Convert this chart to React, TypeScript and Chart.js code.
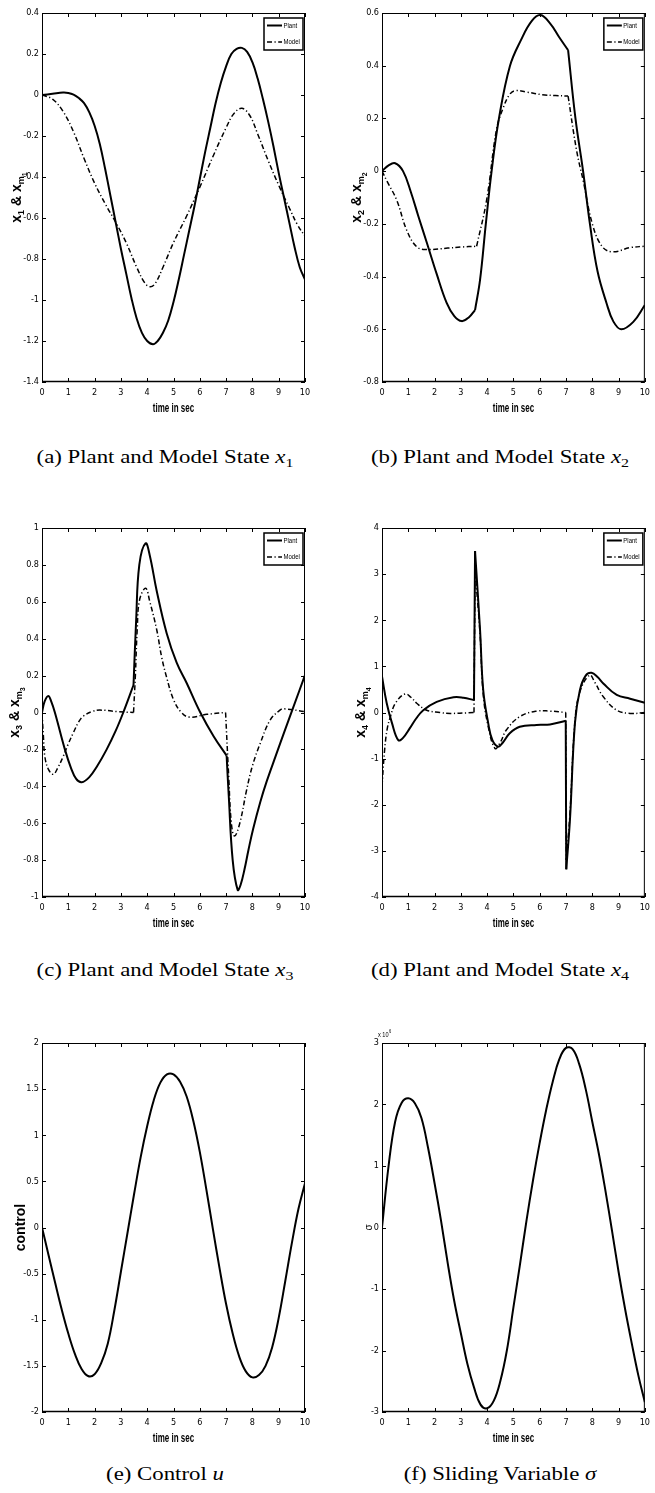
import React, { useEffect, useRef } from 'react';
import { Chart, registerables } from 'chart.js';

Chart.register(...registerables);

// ---------------- data ----------------
const timeTicks = [0, 1, 2, 3, 4, 5, 6, 7, 8, 9, 10];

const ticksA = [-1.4, -1.2, -1, -0.8, -0.6, -0.4, -0.2, 0, 0.2, 0.4];
const ticksB = [-0.8, -0.6, -0.4, -0.2, 0, 0.2, 0.4, 0.6];
const ticksC = [-1, -0.8, -0.6, -0.4, -0.2, 0, 0.2, 0.4, 0.6, 0.8, 1];
const ticksD = [-4, -3, -2, -1, 0, 1, 2, 3, 4];
const ticksE = [-2, -1.5, -1, -0.5, 0, 0.5, 1, 1.5, 2];
const ticksF = [-3, -2, -1, 0, 1, 2, 3];

const legendLabels = ['Plant', 'Model'];

// (a) state x1
const tA_plant = [0, 0.4, 0.8, 1.0, 1.2, 1.4, 1.6, 1.8, 2.0, 2.2, 2.4, 2.6, 2.8, 3.0, 3.2, 3.4, 3.6, 3.8, 4.0, 4.22, 4.4, 4.6, 4.8, 5.0, 5.2, 5.4, 5.6, 5.8, 6.0, 6.2, 6.4, 6.6, 6.8, 7.0, 7.2, 7.4, 7.6, 7.8, 8.0, 8.2, 8.4, 8.6, 8.8, 9.0, 9.2, 9.4, 9.6, 9.8, 10];
const xA_plant = [0, 0.006, 0.012, 0.01, 0.002, -0.015, -0.04, -0.085, -0.15, -0.24, -0.36, -0.49, -0.62, -0.75, -0.87, -0.99, -1.09, -1.16, -1.2, -1.216, -1.2, -1.16, -1.1, -1.01, -0.9, -0.78, -0.66, -0.54, -0.41, -0.28, -0.16, -0.04, 0.06, 0.14, 0.2, 0.225, 0.23, 0.21, 0.16, 0.08, -0.02, -0.13, -0.25, -0.38, -0.5, -0.62, -0.74, -0.84, -0.9];
const tA_model = [0, 0.4, 0.8, 1.2, 1.6, 2.0, 2.4, 2.8, 3.2, 3.6, 3.9, 4.1, 4.3, 4.6, 5.0, 5.5, 6.0, 6.5, 7.0, 7.3, 7.6, 7.9, 8.2, 8.6, 9.0, 9.4, 9.7, 10];
const xA_model = [0, -0.02, -0.08, -0.18, -0.31, -0.43, -0.53, -0.62, -0.72, -0.84, -0.915, -0.935, -0.92, -0.84, -0.72, -0.59, -0.45, -0.3, -0.16, -0.09, -0.065, -0.1, -0.19, -0.32, -0.44, -0.55, -0.63, -0.69];
const cornersA_plant: number[] = [];
const cornersA_model: number[] = [];

// (b) state x2
const tB_plant = [0, 0.25, 0.5, 0.8, 1.1, 1.38, 1.7, 2.08, 2.46, 2.75, 3.03, 3.3, 3.54, 3.73, 3.95, 4.17, 4.45, 4.87, 5.3, 5.7, 6.03, 6.4, 6.73, 7.08, 7.36, 7.65, 7.91, 8.2, 8.54, 8.8, 9.1, 9.56, 10];
const xB_plant = [0, 0.022, 0.03, 0, -0.08, -0.17, -0.27, -0.39, -0.5, -0.55, -0.569, -0.555, -0.527, -0.413, -0.2, 0, 0.2, 0.4, 0.5, 0.57, 0.592, 0.56, 0.51, 0.459, 0.2, 0, -0.2, -0.38, -0.5, -0.57, -0.6, -0.572, -0.508];
const tB_model = [0, 0.2, 0.56, 0.94, 1.32, 1.7, 2.5, 3.0, 3.6, 3.98, 4.36, 4.61, 4.85, 5.05, 5.5, 6.1, 6.6, 7.08, 7.4, 7.65, 8.03, 8.41, 8.8, 9.44, 10];
const xB_model = [0, -0.04, -0.11, -0.224, -0.287, -0.297, -0.292, -0.288, -0.285, -0.11, 0.16, 0.24, 0.29, 0.305, 0.3, 0.29, 0.287, 0.285, 0.08, -0.034, -0.21, -0.29, -0.306, -0.29, -0.285];
const cornersB_plant = [3.54, 7.08];
const cornersB_model = [3.6, 7.08];

// (c) state x3
const tC_plant = [0, 0.1, 0.24, 0.35, 0.49, 0.87, 1.1, 1.3, 1.51, 1.8, 2.1, 2.46, 2.8, 3.09, 3.48, 3.58, 3.7, 3.94, 4.1, 4.36, 4.74, 5.12, 5.5, 6.02, 6.53, 7.02, 7.1, 7.25, 7.44, 7.55, 7.7, 7.85, 8.03, 8.3, 8.54, 8.9, 9.2, 9.56, 10];
const xC_plant = [0, 0.06, 0.09, 0.06, 0, -0.2, -0.3, -0.36, -0.378, -0.35, -0.29, -0.2, -0.1, 0, 0.149, 0.5, 0.8, 0.917, 0.85, 0.66, 0.43, 0.27, 0.16, 0, -0.13, -0.234, -0.45, -0.8, -0.962, -0.935, -0.85, -0.745, -0.63, -0.485, -0.375, -0.23, -0.11, 0.03, 0.203];
const tC_model = [0, 0.05, 0.11, 0.25, 0.43, 0.6, 0.8, 1.0, 1.19, 1.4, 1.57, 1.9, 2.2, 2.85, 3.48, 3.55, 3.62, 3.71, 3.94, 4.1, 4.36, 4.55, 4.74, 5.0, 5.3, 5.6, 6.27, 6.98, 7.1, 7.2, 7.32, 7.52, 7.78, 8.0, 8.29, 8.68, 9.06, 9.2, 10];
const xC_model = [0, -0.12, -0.24, -0.31, -0.335, -0.3, -0.24, -0.17, -0.11, -0.05, -0.02, 0.005, 0.013, 0.005, 0, 0.2, 0.45, 0.61, 0.673, 0.6, 0.45, 0.3, 0.19, 0.07, 0, -0.025, -0.01, 0, -0.35, -0.6, -0.67, -0.6, -0.42, -0.29, -0.17, -0.04, 0.014, 0.02, 0.005];
const cornersC_plant = [3.48, 7.02];
const cornersC_model = [3.48, 6.98];

// (d) state x4
const tD_plant = [0, 0.18, 0.38, 0.62, 0.8, 1.06, 1.3, 1.57, 2.08, 2.72, 3.1, 3.5, 3.54, 3.73, 3.85, 4.04, 4.2, 4.42, 4.6, 4.86, 5.24, 5.88, 6.39, 6.99, 7.01, 7.15, 7.34, 7.53, 7.75, 7.97, 8.2, 8.42, 8.93, 9.44, 10];
const xD_plant = [0.78, 0.2, -0.23, -0.6, -0.55, -0.34, -0.13, 0.05, 0.23, 0.33, 0.32, 0.27, 3.5, 1.79, 0.49, -0.23, -0.6, -0.74, -0.65, -0.45, -0.31, -0.27, -0.26, -0.18, -3.4, -2.33, -0.23, 0.49, 0.8, 0.86, 0.77, 0.63, 0.38, 0.3, 0.21];
const tD_model = [0, 0.1, 0.2, 0.32, 0.51, 0.87, 1.1, 1.32, 1.7, 2.2, 2.6, 3.5, 3.54, 3.73, 3.85, 4.04, 4.3, 4.5, 4.73, 5.24, 5.88, 6.39, 6.99, 7.01, 7.15, 7.34, 7.53, 7.9, 8.1, 8.42, 8.93, 9.44, 10];
const xD_model = [-1.6, -0.81, -0.35, -0.09, 0.2, 0.4, 0.33, 0.2, 0.05, 0, -0.02, 0, 3.1, 1.7, 0.4, -0.3, -0.78, -0.65, -0.38, -0.09, 0.03, 0.03, 0, -3.2, -2.2, -0.2, 0.45, 0.81, 0.65, 0.34, 0.05, -0.02, 0];
const cornersD_plant = [3.5, 3.54, 6.99, 7.01];
const cornersD_model = [3.5, 3.54, 6.99, 7.01];

// (e) control u
const tE = [0, 0.25, 0.5, 0.75, 1, 1.25, 1.5, 1.75, 2, 2.25, 2.5, 2.75, 3, 3.25, 3.5, 3.75, 4, 4.25, 4.5, 4.75, 5, 5.25, 5.5, 5.75, 6, 6.25, 6.5, 6.75, 7, 7.25, 7.5, 7.75, 8, 8.25, 8.5, 8.75, 9, 9.25, 9.5, 9.75, 10];
const uE = [0, -0.3, -0.6, -0.89, -1.15, -1.37, -1.53, -1.61, -1.59, -1.47, -1.26, -0.9, -0.48, -0.06, 0.36, 0.76, 1.1, 1.38, 1.57, 1.66, 1.66, 1.58, 1.42, 1.16, 0.82, 0.41, -0.02, -0.44, -0.83, -1.15, -1.4, -1.56, -1.625, -1.6, -1.5, -1.3, -0.98, -0.58, -0.17, 0.2, 0.48];

// (f) sliding variable sigma (x 10^6)
const tF = [0, 0.25, 0.5, 0.75, 1, 1.25, 1.5, 1.75, 2, 2.25, 2.5, 2.75, 3, 3.25, 3.5, 3.75, 4, 4.25, 4.5, 4.75, 5, 5.25, 5.5, 5.75, 6, 6.25, 6.5, 6.75, 7, 7.25, 7.5, 7.75, 8, 8.25, 8.5, 8.75, 9, 9.25, 9.5, 9.75, 10];
const sF = [0, 1.0, 1.72, 2.03, 2.1, 2.02, 1.78, 1.3, 0.72, 0.1, -0.58, -1.2, -1.72, -2.22, -2.6, -2.88, -2.94, -2.82, -2.5, -2.0, -1.3, -0.6, 0.12, 0.78, 1.38, 1.92, 2.38, 2.74, 2.92, 2.9, 2.66, 2.25, 1.72, 1.2, 0.6, -0.05, -0.72, -1.33, -1.88, -2.4, -2.84];

// ---------------- styling ----------------
const NARROW = "'Liberation Sans Narrow', 'Arial Narrow', 'DejaVu Sans Condensed', sans-serif";
const SANS = "'Liberation Sans', Arial, 'DejaVu Sans', sans-serif";
const SERIF = "'Liberation Serif', 'Times New Roman', serif";
const DASH = [5, 2.5, 1.2, 2.5];

type Seg = { t: string; s: number; dy?: number };
type Series = { label: string; t: number[]; v: number[]; dashed: boolean; corners: number[] };
type PanelSpec = {
  id: string;
  left: number;
  top: number;
  width: number;
  height: number;
  padTop: number;
  padRight: number;
  axisW: number;
  ticks: number[];
  series: Series[];
  legend: boolean;
  yTitle: Seg[];
  yTitleBold: boolean;
  yTitleOff: number;
  exponent?: string;
};

const AXIS_H = 38;

const titleX = (n: string): Seg[] => [
  { t: 'x', s: 14 },
  { t: n, s: 9, dy: 3 },
  { t: ' & ', s: 14 },
  { t: 'x', s: 14 },
  { t: 'm', s: 9, dy: 3 },
  { t: n, s: 7, dy: 6 },
];

const PANELS: PanelSpec[] = [
  {
    id: 'a', left: 0, top: 0, width: 320, height: 420, padTop: 13, padRight: 15, axisW: 42,
    ticks: ticksA, legend: true, yTitle: titleX('1'), yTitleBold: true, yTitleOff: 25,
    series: [
      { label: legendLabels[0], t: tA_plant, v: xA_plant, dashed: false, corners: cornersA_plant },
      { label: legendLabels[1], t: tA_model, v: xA_model, dashed: true, corners: cornersA_model },
    ],
  },
  {
    id: 'b', left: 330, top: 0, width: 325, height: 420, padTop: 13, padRight: 10, axisW: 52,
    ticks: ticksB, legend: true, yTitle: titleX('2'), yTitleBold: true, yTitleOff: 25,
    series: [
      { label: legendLabels[0], t: tB_plant, v: xB_plant, dashed: false, corners: cornersB_plant },
      { label: legendLabels[1], t: tB_model, v: xB_model, dashed: true, corners: cornersB_model },
    ],
  },
  {
    id: 'c', left: 0, top: 510, width: 320, height: 425, padTop: 18, padRight: 15, axisW: 42,
    ticks: ticksC, legend: true, yTitle: titleX('3'), yTitleBold: true, yTitleOff: 27,
    series: [
      { label: legendLabels[0], t: tC_plant, v: xC_plant, dashed: false, corners: cornersC_plant },
      { label: legendLabels[1], t: tC_model, v: xC_model, dashed: true, corners: cornersC_model },
    ],
  },
  {
    id: 'd', left: 330, top: 510, width: 325, height: 425, padTop: 18, padRight: 10, axisW: 52,
    ticks: ticksD, legend: true, yTitle: titleX('4'), yTitleBold: true, yTitleOff: 21,
    series: [
      { label: legendLabels[0], t: tD_plant, v: xD_plant, dashed: false, corners: cornersD_plant },
      { label: legendLabels[1], t: tD_model, v: xD_model, dashed: true, corners: cornersD_model },
    ],
  },
  {
    id: 'e', left: 0, top: 1025, width: 320, height: 425, padTop: 18, padRight: 15, axisW: 42,
    ticks: ticksE, legend: false, yTitle: [{ t: 'control', s: 14 }], yTitleBold: true, yTitleOff: 21,
    series: [{ label: 'u', t: tE, v: uE, dashed: false, corners: [] }],
  },
  {
    id: 'f', left: 330, top: 1025, width: 325, height: 425, padTop: 18, padRight: 10, axisW: 52,
    ticks: ticksF, legend: false, yTitle: [{ t: 'σ', s: 10 }], yTitleBold: false, yTitleOff: 14,
    exponent: '6',
    series: [{ label: 'σ', t: tF, v: sF, dashed: false, corners: [] }],
  },
];

const CAPTIONS = [
  { id: 'a', cx: 165, cy: 457, text: '(a) Plant and Model State', sym: 'x', sub: '1' },
  { id: 'b', cx: 500, cy: 457, text: '(b) Plant and Model State', sym: 'x', sub: '2' },
  { id: 'c', cx: 165, cy: 970, text: '(c) Plant and Model State', sym: 'x', sub: '3' },
  { id: 'd', cx: 500, cy: 970, text: '(d) Plant and Model State', sym: 'x', sub: '4' },
  { id: 'e', cx: 165, cy: 1474, text: '(e) Control', sym: 'u', sub: '' },
  { id: 'f', cx: 500, cy: 1474, text: '(f) Sliding Variable', sym: 'σ', sub: '' },
];

const fmt = (v: number | string) => {
  const r = Math.round(Number(v) * 1000) / 1000;
  return Math.abs(r) < 1e-9 ? '0' : String(r);
};

// split a series at its corner times so each smooth piece gets its own spline
function pieces(t: number[], v: number[], corners: number[]) {
  const out: { x: number; y: number }[][] = [];
  let cur: { x: number; y: number }[] = [];
  t.forEach((ti, i) => {
    cur.push({ x: ti, y: v[i] });
    if (i > 0 && i < t.length - 1 && corners.includes(ti)) {
      out.push(cur);
      cur = [{ x: ti, y: v[i] }];
    }
  });
  out.push(cur);
  return out;
}

function fillNarrow(ctx: CanvasRenderingContext2D, text: string, x: number, y: number, font: string, sx: number, align: 'left' | 'center') {
  ctx.save();
  ctx.font = font;
  ctx.textAlign = align;
  ctx.translate(x, y);
  ctx.scale(sx, 1);
  ctx.fillText(text, 0, 0);
  ctx.restore();
}

function drawSegs(ctx: CanvasRenderingContext2D, segs: Seg[], weight: string, baseDy: number) {
  let total = 0;
  const widths = segs.map((sg) => {
    ctx.font = `${weight} ${sg.s}px ${SANS}`;
    const w = ctx.measureText(sg.t).width;
    total += w;
    return w;
  });
  let x = -total / 2;
  ctx.textAlign = 'left';
  ctx.textBaseline = 'alphabetic';
  segs.forEach((sg, i) => {
    ctx.font = `${weight} ${sg.s}px ${SANS}`;
    ctx.fillText(sg.t, x, baseDy + (sg.dy || 0));
    x += widths[i];
  });
}

function framePlugin(p: PanelSpec) {
  return {
    id: 'frame_' + p.id,
    afterDatasetsDraw(chart: any) {
      const { ctx, chartArea: a } = chart;
      const xs = chart.scales.x;
      const ys = chart.scales.y;
      ctx.save();
      ctx.setLineDash([]);
      ctx.strokeStyle = '#000';
      ctx.fillStyle = '#000';
      // box
      ctx.lineWidth = 1;
      ctx.strokeRect(a.left + 0.5, a.top + 0.5, a.right - a.left - 1, a.bottom - a.top - 1);
      ctx.lineWidth = 1.6;
      ctx.beginPath();
      ctx.moveTo(a.left, a.bottom - 0.5);
      ctx.lineTo(a.right, a.bottom - 0.5);
      ctx.stroke();
      // inward ticks on all four sides
      const TL = 4;
      ctx.lineWidth = 1;
      ctx.beginPath();
      for (const t of xs.ticks) {
        const x = Math.round(xs.getPixelForValue(t.value)) + 0.5;
        ctx.moveTo(x, a.bottom);
        ctx.lineTo(x, a.bottom - TL);
        ctx.moveTo(x, a.top);
        ctx.lineTo(x, a.top + TL);
      }
      for (const t of ys.ticks) {
        const y = Math.round(ys.getPixelForValue(t.value)) + 0.5;
        ctx.moveTo(a.left, y);
        ctx.lineTo(a.left + TL, y);
        ctx.moveTo(a.right, y);
        ctx.lineTo(a.right - TL, y);
      }
      ctx.stroke();

      // legend
      if (p.legend) {
        const bw = 39;
        const bh = 32;
        const bx = a.right - 2 - bw;
        const by = a.top + 5;
        ctx.fillStyle = '#fff';
        ctx.fillRect(bx, by, bw, bh);
        ctx.lineWidth = 1.5;
        ctx.strokeRect(bx, by, bw, bh);
        p.series.forEach((s, i) => {
          const ly = by + 7.5 + i * 16.5;
          ctx.beginPath();
          ctx.lineWidth = s.dashed ? 1.5 : 2;
          ctx.setLineDash(s.dashed ? DASH : []);
          ctx.moveTo(bx + 3, ly);
          ctx.lineTo(bx + 18, ly);
          ctx.stroke();
          ctx.setLineDash([]);
          ctx.fillStyle = '#000';
          ctx.textBaseline = 'middle';
          fillNarrow(ctx, s.label, bx + 19.5, ly, `7.5px ${SANS}`, 0.8, 'left');
        });
      }

      // x title
      ctx.fillStyle = '#000';
      ctx.textBaseline = 'alphabetic';
      fillNarrow(ctx, 'time in sec', (a.left + a.right) / 2, a.bottom + 29.5, `bold 12.5px ${SANS}`, 0.64, 'center');

      // y title
      ctx.save();
      ctx.translate(a.left - p.yTitleOff, (a.top + a.bottom) / 2);
      ctx.rotate(-Math.PI / 2);
      drawSegs(ctx, p.yTitle, p.yTitleBold ? 'bold' : 'normal', 3.5);
      ctx.restore();

      // exponent label
      if (p.exponent) {
        ctx.textBaseline = 'alphabetic';
        const x0 = a.left - 4;
        const y0 = a.top - 6.5;
        ctx.font = `7px ${SANS}`;
        const w = ctx.measureText('x 10').width * 0.8;
        fillNarrow(ctx, 'x 10', x0, y0, `7px ${SANS}`, 0.8, 'left');
        fillNarrow(ctx, p.exponent, x0 + w + 0.5, y0 - 3.5, `5px ${SANS}`, 0.8, 'left');
      }
      ctx.restore();
    },
  };
}

function buildConfig(p: PanelSpec): any {
  const datasets: any[] = [];
  p.series.forEach((s) => {
    pieces(s.t, s.v, s.corners).forEach((pts, k) => {
      datasets.push({
        label: k === 0 ? s.label : s.label + ' ' + k,
        data: pts,
        borderColor: '#000',
        backgroundColor: '#000',
        borderWidth: s.dashed ? 1.5 : 2,
        borderDash: s.dashed ? DASH : [],
        pointRadius: 0,
        fill: false,
        tension: 0.4,
        borderJoinStyle: 'round',
      });
    });
  });
  const tickFont = { family: NARROW, size: 9 };
  return {
    type: 'line',
    data: { datasets },
    options: {
      animation: false,
      responsive: false,
      maintainAspectRatio: false,
      events: [],
      layout: { padding: { top: p.padTop, right: p.padRight, left: 0, bottom: 0 } },
      plugins: { legend: { display: false }, tooltip: { enabled: false }, title: { display: false } },
      scales: {
        x: {
          type: 'linear',
          min: timeTicks[0],
          max: timeTicks[timeTicks.length - 1],
          afterBuildTicks: (s: any) => {
            s.ticks = timeTicks.map((v) => ({ value: v }));
          },
          afterFit: (s: any) => {
            s.height = AXIS_H;
          },
          ticks: { color: '#000', font: tickFont, padding: 5, maxRotation: 0, minRotation: 0, autoSkip: false, callback: fmt },
          grid: { display: false, drawTicks: false },
          border: { display: false },
        },
        y: {
          type: 'linear',
          min: p.ticks[0],
          max: p.ticks[p.ticks.length - 1],
          afterBuildTicks: (s: any) => {
            s.ticks = p.ticks.map((v) => ({ value: v }));
          },
          afterFit: (s: any) => {
            s.width = p.axisW;
          },
          ticks: { color: '#000', font: tickFont, padding: 3, autoSkip: false, callback: fmt },
          grid: { display: false, drawTicks: false },
          border: { display: false },
        },
      },
    },
    plugins: [framePlugin(p)],
  };
}

export default function App() {
  const refs = useRef<(HTMLCanvasElement | null)[]>([]);

  useEffect(() => {
    const charts = PANELS.map((p, i) => new Chart(refs.current[i] as HTMLCanvasElement, buildConfig(p)));
    return () => {
      charts.forEach((c) => c.destroy());
    };
  }, []);

  return (
    <div style={{ position: 'absolute', left: 0, top: 0, width: 655, height: 1493, background: '#fff', overflow: 'hidden' }}>
      {PANELS.map((p, i) => (
        <canvas
          key={p.id}
          ref={(el) => {
            refs.current[i] = el;
          }}
          width={p.width}
          height={p.height}
          style={{ position: 'absolute', left: p.left, top: p.top, width: p.width, height: p.height }}
        />
      ))}
      {CAPTIONS.map((c) => (
        <div
          key={c.id}
          style={{
            position: 'absolute',
            left: c.cx - 160,
            width: 320,
            top: c.cy - 12,
            height: 24,
            lineHeight: '24px',
            textAlign: 'center',
            fontFamily: SERIF,
            fontSize: 19,
            color: '#000',
            whiteSpace: 'nowrap',
            transform: 'scaleX(1.2)',
            transformOrigin: 'center',
          }}
        >
          {c.text} <span style={{ fontStyle: 'italic' }}>{c.sym}</span>
          {c.sub ? <span style={{ fontSize: '0.7em', position: 'relative', top: '0.3em' }}>{c.sub}</span> : null}
        </div>
      ))}
    </div>
  );
}
